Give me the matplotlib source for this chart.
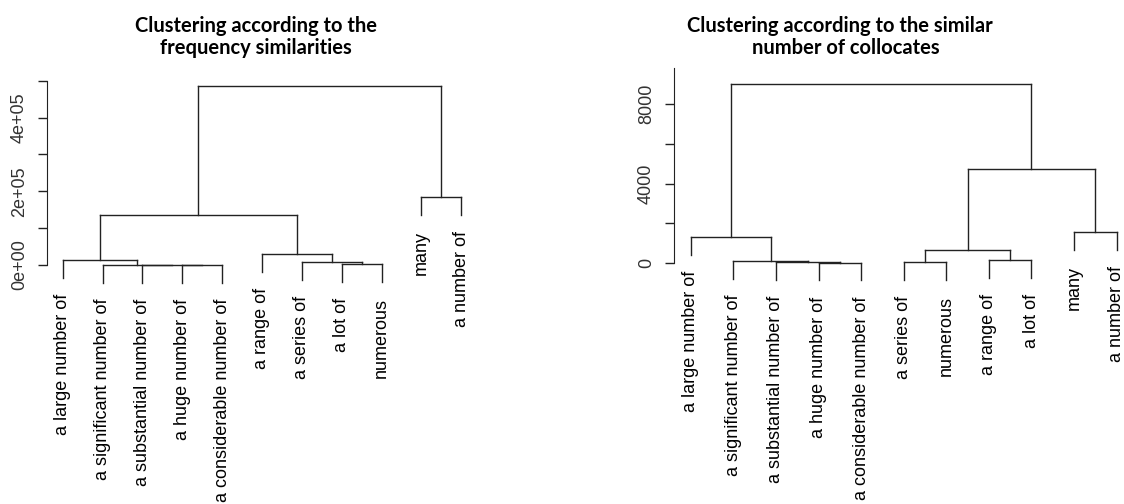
import matplotlib
matplotlib.use('Agg')
import matplotlib.pyplot as plt

# leaf labels in plotting order, merges as in R's hclust (negative = leaf, positive = earlier merge)
labels_freq = ['a large number of', 'a significant number of', 'a substantial number of',
               'a huge number of', 'a considerable number of', 'a range of', 'a series of',
               'a lot of', 'numerous', 'many', 'a number of']
merge_freq = [(-4, -5), (-3, 1), (-2, 2), (-1, 3), (-8, -9), (-7, 5), (-6, 6), (4, 7), (-10, -11), (8, 9)]
height_freq = [300, 600, 900, 13500, 1500, 7300, 29000, 135500, 183500, 486000]

labels_coll = ['a large number of', 'a significant number of', 'a substantial number of',
               'a huge number of', 'a considerable number of', 'a series of', 'numerous',
               'a range of', 'a lot of', 'many', 'a number of']
merge_coll = [(-4, -5), (-3, 1), (-2, 2), (-1, 3), (-6, -7), (-8, -9), (5, 6), (-10, -11), (7, 8), (4, 9)]
height_coll = [40, 80, 120, 1330, 50, 170, 680, 1555, 4710, 8990]

yticks_freq = [0, 100000, 200000, 300000, 400000, 500000]
ylabels_freq = ['0e+00', '', '2e+05', '', '4e+05', '']
yticks_coll = [0, 2000, 4000, 6000, 8000]
ylabels_coll = ['0', '', '4000', '', '8000']

W, H = 1124, 504
LINE = '#222222'


def draw_dendro(ax, labels, merges, heights, hang=0.1):
    drop = hang * max(heights)
    xpos = {}
    for k, (a, b) in enumerate(merges):
        h = heights[k]
        xs = []
        for c in (a, b):
            if c < 0:
                x = -c
                ax.plot([x, x], [h, h - drop], color=LINE, lw=1.0)
                ax.annotate(labels[-c - 1], (x, h - drop), xytext=(0, -11.5), textcoords='offset points',
                            rotation=90, ha='center', va='top', fontsize=13, family='Liberation Sans')
            else:
                x = xpos[c]
                ax.plot([x, x], [h, heights[c - 1]], color=LINE, lw=1.0)
            xs.append(x)
        ax.plot(xs, [h, h], color=LINE, lw=1.0)
        xpos[k + 1] = (xs[0] + xs[1]) / 2


def px_axes(x0, x1, y0, y1):
    return fig.add_axes([x0 / W, 1 - y1 / H, (x1 - x0) / W, (y1 - y0) / H])


fig = plt.figure(figsize=(W / 100, H / 100), dpi=100)

# left panel: frequency similarities
ax1 = px_axes(46.8, 477.2, 70, 300)
draw_dendro(ax1, labels_freq, merge_freq, height_freq)
ax1.set_xlim(0.6, 11.4)
ax1.set_ylim((265 - 300) / 36.86 * 1e5, (265 - 70) / 36.86 * 1e5)
ax1.spines['left'].set_bounds(0, 500000)

# right panel: number of collocates
ax2 = px_axes(673.7, 1133.7, 60, 300)
draw_dendro(ax2, labels_coll, merge_coll, height_coll)
ax2.set_xlim(0.6, 11.4)
ax2.set_ylim((263.3 - 300) / 19.95 * 1000, (263.3 - 60) / 19.95 * 1000)
ax2.spines['left'].set_bounds(0, (263.3 - 68) / 19.95 * 1000)

for ax, ticks, labs in [(ax1, yticks_freq, ylabels_freq), (ax2, yticks_coll, ylabels_coll)]:
    for s in ['top', 'right', 'bottom']:
        ax.spines[s].set_visible(False)
    ax.spines['left'].set_color(LINE)
    ax.set_xticks([])
    ax.set_yticks(ticks)
    ax.set_yticklabels(labs, rotation=90, va='center', fontsize=13, family='Liberation Sans', color='#333333')
    ax.tick_params(axis='y', length=6.5, width=1.0, color=LINE, pad=7)
    ax.patch.set_alpha(0)

tfont = dict(family='Lato', weight='bold', fontsize=14.5, ha='center', va='baseline')
fig.text(256 / W, 1 - 31.5 / H, 'Clustering according to the', **tfont)
fig.text(256 / W, 1 - 54 / H, 'frequency similarities', **tfont)
fig.text(839.5 / W, 1 - 31.5 / H, 'Clustering according to the similar', **tfont)
fig.text(846 / W, 1 - 54 / H, 'number of collocates', **tfont)

fig.savefig('out.png', dpi=100)
